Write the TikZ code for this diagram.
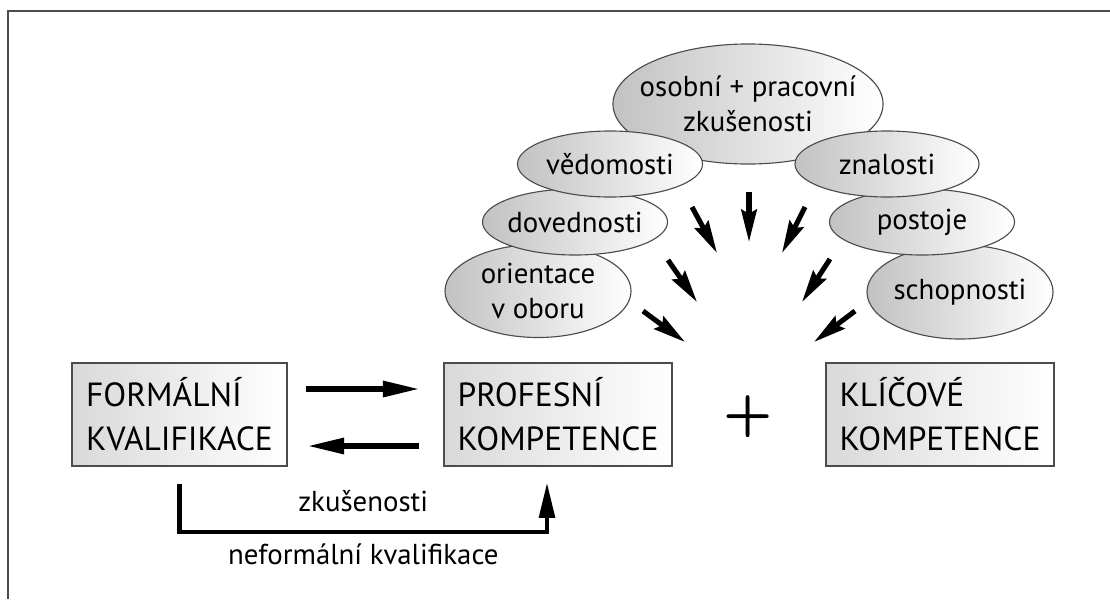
\documentclass[tikz,border=0pt]{standalone}
\usepackage{fontspec}
\setmainfont{PT Sans}
\usetikzlibrary{shapes.geometric,arrows.meta}

\tikzset{
  box/.style={draw=black!70,line width=0.9pt,left color=black!15,right color=white,
    minimum width=5.375cm,minimum height=2.575cm,align=left,
    font=\fontsize{23.8}{31.3}\selectfont},
  bubble/.style={ellipse,draw=black!70,line width=0.8pt,left color=black!24,right color=white,
    inner sep=-6pt,align=center,font=\fontsize{20.5}{24.5}\selectfont},
  fat/.style={line width=3.6pt,-{Triangle[length=26pt,width=11pt]}},
  ray/.style={line width=3.6pt,-{Stealth[length=23pt,width=11pt,inset=3pt]}},
}

\begin{document}
\begin{tikzpicture}[x=0.025cm,y=-0.025cm]
\useasboundingbox (0,0) rectangle (1110,599);
\draw[black!70,line width=1.4pt] (8,599) -- (8,11) -- (1110,11);
% bubbles, back to front
\node[bubble,minimum width=6.75cm,minimum height=3cm,inner xsep=-20pt] (osobni) at (748,104) {osobní + pracovní\\zkušenosti};
\node[bubble,minimum width=4.65cm,minimum height=2.325cm] (orient) at (538,291) {orientace\\v oboru};
\node[bubble,minimum width=4.625cm,minimum height=1.65cm] (doved) at (575,222) {dovednosti};
\node[bubble,minimum width=4.625cm,minimum height=1.65cm] (vedom) at (610,164) {vědomosti};
\node[bubble,minimum width=4.65cm,minimum height=2.35cm] (schop) at (960,292) {schopnosti};
\node[bubble,minimum width=4.625cm,minimum height=1.65cm] (postoj) at (922,222) {postoje};
\node[bubble,minimum width=4.6cm,minimum height=1.65cm] (znal) at (887,164) {znalosti};
\foreach \xa/\ya/\xb/\yb in {692/207/717/253, 749/192/749/242, 805/207/782/253,
    668/260/697/302, 643/311/685/342, 830/259/802/302, 855/311/814/342}
  \draw[ray] (\xa,\ya) -- (\xb,\yb);
% boxes
\node[box] (formal) at (179.5,414.5) {FORMÁLNÍ\\KVALIFIKACE};
\node[box,minimum width=5.7cm] (profes) at (558,414.5) {PROFESNÍ\\KOMPETENCE};
\node[box,minimum width=5.7cm] (klic) at (940,414.5) {KLÍČOVÉ\\KOMPETENCE};
\node[font=\fontfamily{lmr}\bfseries\fontsize{45}{45}\selectfont,inner sep=0pt] (plus) at (748,417) {+};
\draw[fat] ([shift={(18,-25.5)}]formal.east) -- ([shift={(-24,-25.5)}]profes.west);
\draw[fat] ([shift={(-24,31.5)}]profes.west) -- ([shift={(20,31.5)}]formal.east);
\draw[line width=3pt,-{Triangle[length=25pt,width=11pt]}]
  ([shift={(0,17)}]formal.south) -- ++(0,48)
  -| node[pos=0.25,above=9pt,font=\fontsize{20.5}{24}\selectfont] {zkušenosti}
     node[pos=0.25,below=4pt,font=\fontsize{20.5}{24}\selectfont] {neformální kvalifikace}
  ([shift={(-11,16)}]profes.south);
\end{tikzpicture}
\end{document}
